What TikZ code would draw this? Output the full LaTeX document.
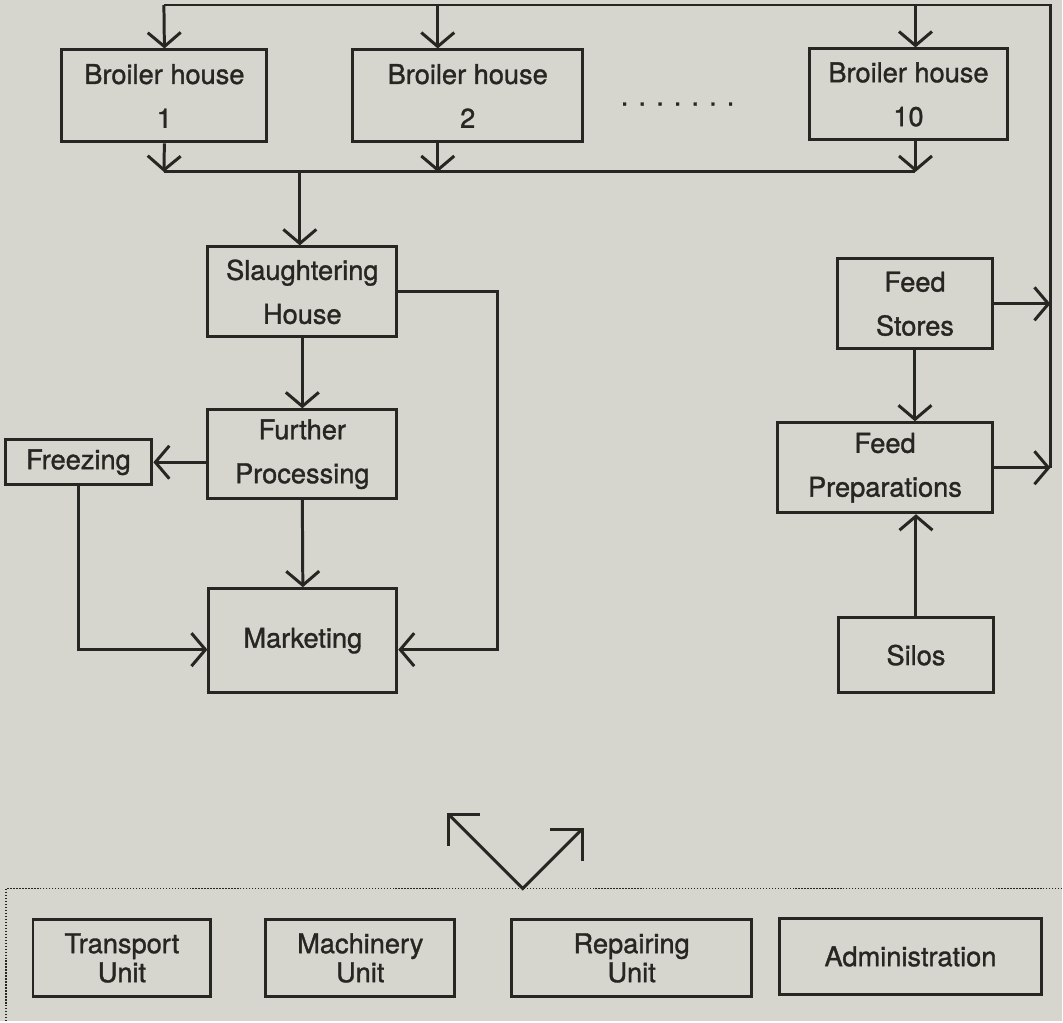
\documentclass[tikz,border=0pt]{standalone}
\usepackage{fontspec}
\setmainfont{TeX Gyre Heros}[FakeBold=1.2]
\usetikzlibrary{arrows.meta}
\definecolor{paper}{RGB}{214,214,206}
\definecolor{ink}{RGB}{38,38,34}
\tikzset{
	housebox/.style={draw, inner sep=0pt, align=center, text=ink, font=\fontsize{15.5}{25}\selectfont},
	servicebox/.style={housebox, font=\fontsize{15.5}{16.5}\selectfont},
	vtip/.style={>={Straight Barb[length=4.5mm,width=9mm]}}
}
\begin{document}
\begin{tikzpicture}[x=0.02cm, y=-0.02cm, line width=1.7pt, color=ink, >={Straight Barb[length=2.8mm,width=6.6mm]}]
	\fill [paper] (0,0) rectangle (1063,1022);
	\node [housebox, minimum width=4.10cm, minimum height=1.84cm] (bh1) at (164.5,96) {Broiler house\\1};
	\node [housebox, minimum width=4.60cm, minimum height=1.84cm] (bh2) at (468,96) {Broiler house\\2};
	\node [housebox, minimum width=3.96cm, minimum height=1.82cm] (bh10) at (909,94.5) {Broiler house\\10};
	\node [text=ink, font=\fontsize{15.5}{18}\selectfont] (dots) at (678,104) {. . . . . . .};
	\node [housebox, minimum width=3.78cm, minimum height=1.80cm] (sh) at (302.5,292) {Slaughtering\\House};
	\node [housebox, minimum width=3.78cm, minimum height=1.78cm] (fp) at (302.5,454.5) {Further\\Processing};
	\node [housebox, minimum width=2.94cm, minimum height=0.90cm] (fr) at (78.5,462.5) {Freezing};
	\node [housebox, minimum width=3.76cm, minimum height=2.08cm] (mk) at (303,641) {Marketing};
	\node [housebox, minimum width=3.10cm, minimum height=1.80cm] (fs) at (915.5,304) {Feed\\Stores};
	\node [housebox, minimum width=4.30cm, minimum height=1.80cm] (fpr) at (885.5,468) {Feed\\Preparations};
	\node [housebox, minimum width=3.10cm, minimum height=1.50cm] (si) at (916.5,655.5) {Silos};
	\node [servicebox, minimum width=3.56cm, minimum height=1.54cm] (tu) at (122,958.5) {Transport\\Unit};
	\node [servicebox, minimum width=3.78cm, minimum height=1.54cm] (mu) at (360.5,958.5) {Machinery\\Unit};
	\node [servicebox, minimum width=4.80cm, minimum height=1.54cm] (ru) at (632,958.5) {Repairing\\Unit};
	\node [servicebox, minimum width=5.24cm, minimum height=1.52cm] (ad) at (911,957) {Administration};
	\coordinate (t1) at (164,5);
	\coordinate (t2) at (438,5);
	\coordinate (t10) at (916,5);
	\coordinate (tr) at (1051,5);
	\coordinate (br) at (1051,468);
	\coordinate (c1) at (164,172);
	\coordinate (c2) at (438,172);
	\coordinate (cs) at (300,172);
	\coordinate (c10) at (916,172);
	\coordinate (rl) at (498,292);
	\coordinate (mkin) at (0,650);
	\coordinate (vl) at (447,813);
	\coordinate (vx) at (523,889);
	\coordinate (vr) at (584,828);
	\draw (t1) -- (tr) -- (br);
	\draw [->] (t1) -- (bh1.north);
	\draw [->] (t2) -- (t2 |- bh2.north);
	\draw [->] (t10) -- (t10 |- bh10.north);
	\draw (c1) -- (c10);
	\draw [->] (bh1.south) -- (c1);
	\draw [->] (c2 |- bh2.south) -- (c2);
	\draw [->] (c10 |- bh10.south) -- (c10);
	\draw [->] (cs) -- (cs |- sh.north);
	\draw [->] (sh.south) -- (fp.north);
	\draw [->] (fp.west |- fr.east) -- (fr.east);
	\draw [->] (fp.south) -- (mk.north);
	\draw [->] (fr.south) -- (fr.south |- mkin) -- (mk.west |- mkin);
	\draw [->] (sh.east) -- (rl) -- (rl |- mkin) -- (mk.east |- mkin);
	\draw [->] (fs.south) -- (fs.south |- fpr.north);
	\draw [->] (si.north) -- (si.north |- fpr.south);
	\draw [->] (fs.east) -- (fs.east -| br);
	\draw [->] (fpr.east) -- (br);
	\draw [densely dotted, line width=0.7pt] (1063,889) -- (6,889) -- (6,1022);
	\draw [vtip, <->] (vl) -- (vx) -- (vr);
\end{tikzpicture}
\end{document}
